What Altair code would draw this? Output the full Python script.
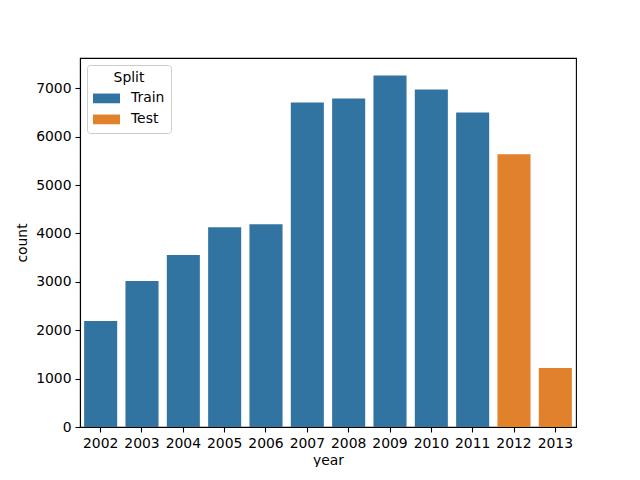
import altair as alt
import pandas as pd

years = ["2002", "2003", "2004", "2005", "2006", "2007", "2008", "2009", "2010", "2011", "2012", "2013"]
counts = [2192, 3019, 3553, 4130, 4192, 6707, 6790, 7264, 6975, 6501, 5635, 1222]
splits = ["Train"] * 10 + ["Test"] * 2
split_order = ["Train", "Test"]
split_colors = ["#3274a1", "#e1812c"]
y_ticks = [0, 1000, 2000, 3000, 4000, 5000, 6000, 7000]

df = pd.DataFrame({"year": years, "count": counts, "Split": splits})

FONT = "DejaVu Sans"
FS = 13.9

chart = alt.Chart(df).mark_bar().encode(
    x=alt.X("year:N", sort=years, title="year",
            scale=alt.Scale(paddingInner=0.2, paddingOuter=0.1),
            axis=alt.Axis(labelAngle=0, titlePadding=4)),
    y=alt.Y("count:Q", title="count",
            scale=alt.Scale(domain=[0, 7627], nice=False),
            axis=alt.Axis(values=y_ticks, format="d", titlePadding=6, grid=False)),
    color=alt.Color("Split:N", sort=split_order,
                    scale=alt.Scale(domain=split_order, range=split_colors),
                    legend=alt.Legend(orient="none", legendX=7, legendY=7,
                                      title="Split", titleAnchor="middle",
                                      symbolType="M-1,-0.36L1,-0.36L1,0.36L-1,0.36Z",
                                      symbolSize=729, symbolStrokeWidth=0,
                                      labelOffset=11, rowPadding=0,
                                      padding=6, titlePadding=0,
                                      fillColor="rgba(255,255,255,0.8)",
                                      strokeColor="#cccccc", cornerRadius=3)),
).properties(
    width=496, height=369,
    autosize=alt.AutoSizeParams(type="none"),
    padding={"left": 72, "top": 50, "right": 10, "bottom": 40},
).configure_view(
    stroke="black", strokeWidth=1.1
).configure_axis(
    labelFont=FONT, titleFont=FONT, labelFontSize=FS, titleFontSize=FS,
    titleFontWeight="normal", labelColor="black", titleColor="black",
    domainColor="black", tickColor="black", tickSize=5, tickWidth=1.1,
    domainWidth=1.1, labelPadding=4,
).configure_legend(
    labelFont=FONT, titleFont=FONT, labelFontSize=FS, titleFontSize=FS,
    titleFontWeight="normal", labelColor="black", titleColor="black",
)

chart.save("out.html", embed_options={"renderer": "svg", "actions": False})
